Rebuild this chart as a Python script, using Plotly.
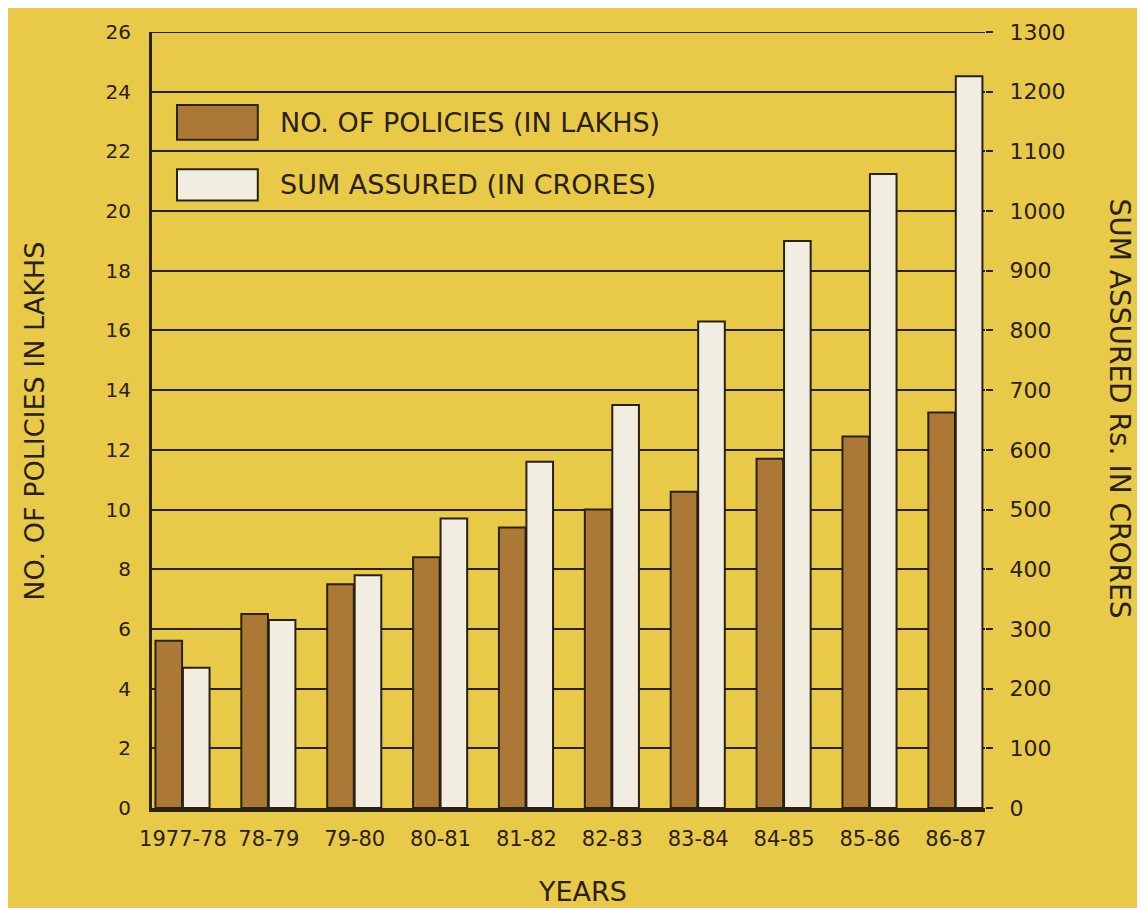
import plotly.graph_objects as go

# data
years = ["1977-78", "78-79", "79-80", "80-81", "81-82",
         "82-83", "83-84", "84-85", "85-86", "86-87"]
policies_lakhs = [5.6, 6.5, 7.5, 8.4, 9.4, 10.0, 10.6, 11.7, 12.45, 13.25]
sum_assured_crores = [235, 315, 390, 485, 580, 675, 815, 950, 1062, 1226]

left_ticks = list(range(0, 27, 2))
right_ticks = list(range(0, 1301, 100))

BG = "#E9C948"
BROWN = "#AB7935"
CREAM = "#F1EEE1"
INK = "#2A2116"
FONT = "DejaVu Sans"

fig = go.Figure()
fig.add_trace(go.Bar(
    x=years, y=policies_lakhs, name="NO. OF POLICIES (IN LAKHS)",
    marker=dict(color=BROWN, line=dict(color=INK, width=2)),
    width=0.31, offset=-0.32, yaxis="y",
))
fig.add_trace(go.Bar(
    x=years, y=sum_assured_crores, name="SUM ASSURED (IN CRORES)",
    marker=dict(color=CREAM, line=dict(color=INK, width=2)),
    width=0.31, offset=0.0, yaxis="y2",
))

# the page sits 8px in from the window corner, so margins are shifted by that
fig.update_layout(
    width=1145, height=908,
    paper_bgcolor=BG, plot_bgcolor=BG,
    margin=dict(l=144, r=168, t=22, b=108),
    showlegend=False,
    font=dict(family=FONT, color=INK),
    xaxis=dict(
        range=[-0.36, 9.34], showgrid=False,
        showline=True, linecolor=INK, linewidth=4,
        ticks="", ticklabelstandoff=9,
        tickfont=dict(size=21, color=INK),
    ),
    yaxis=dict(
        range=[0, 26], tickvals=left_ticks,
        showgrid=True, gridcolor=INK, gridwidth=2,
        showline=True, linecolor=INK, linewidth=3,
        ticks="", ticklabelstandoff=14, zeroline=False,
        tickfont=dict(size=20, color=INK),
    ),
    yaxis2=dict(
        range=[0, 1300], tickvals=right_ticks,
        overlaying="y", side="right", showgrid=False, zeroline=False,
        showline=False, ticks="outside", ticklen=7, tickwidth=2, tickcolor=INK,
        ticklabelstandoff=12,
        tickfont=dict(size=22, color=INK),
    ),
)

# top line at 26 (gridline at range edge doesn't show)
fig.add_shape(type="line", xref="paper", yref="y", x0=0, x1=1, y0=26, y1=26,
              line=dict(color=INK, width=2))

# legend drawn as big boxes like the original
legend_rows = [(BROWN, "NO. OF POLICIES (IN LAKHS)", 0.861, 0.906),
               (CREAM, "SUM ASSURED (IN CRORES)", 0.783, 0.823)]
for color, label, y0, y1 in legend_rows:
    fig.add_shape(type="rect", xref="paper", yref="paper",
                  x0=0.030, x1=0.127, y0=y0, y1=y1,
                  fillcolor=color, line=dict(color=INK, width=2))
    fig.add_annotation(xref="paper", yref="paper", x=0.151, y=(y0 + y1) / 2,
                       text=label, showarrow=False, xanchor="left", yanchor="middle",
                       font=dict(size=27, color=INK))

fig.add_annotation(xref="paper", yref="paper", x=-0.1405, y=0.499,
                   text="NO. OF POLICIES IN LAKHS", textangle=-90,
                   xanchor="center", yanchor="middle",
                   showarrow=False, font=dict(size=27, color=INK))
fig.add_annotation(xref="paper", yref="paper", x=1.162, y=0.515,
                   text="SUM ASSURED Rs. IN CRORES", textangle=90,
                   xanchor="center", yanchor="middle",
                   showarrow=False, font=dict(size=28, color=INK))
fig.add_annotation(xref="paper", yref="paper", x=0.517, y=-0.107,
                   text="YEARS", showarrow=False,
                   xanchor="center", yanchor="middle",
                   font=dict(size=27, color=INK))

fig.write_html("out.html")
